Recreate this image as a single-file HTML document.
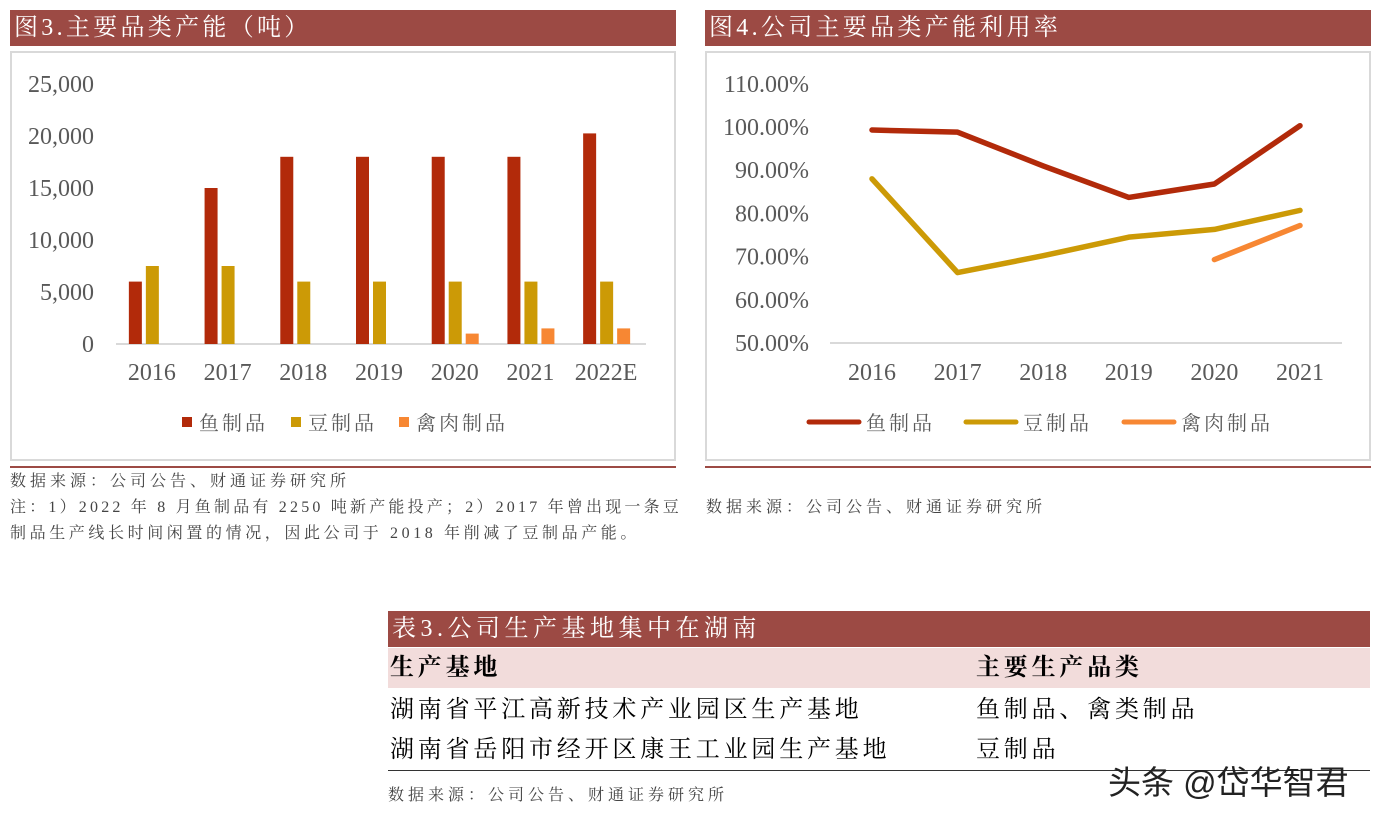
<!DOCTYPE html>
<html><head><meta charset="utf-8"><style>
body{margin:0;width:1386px;height:819px;background:#fff;position:relative;overflow:hidden;font-family:"Liberation Serif","Noto Serif CJK SC",serif;}
.abs{position:absolute}
.hdr{background:#9c4a44;color:#fff;font-size:24px;line-height:36px;padding-left:4px;box-sizing:border-box;letter-spacing:3.3px}
.src{font-size:16px;color:#444;line-height:26px;letter-spacing:4px;white-space:nowrap}
</style></head><body>
<div class="abs hdr" style="left:10px;top:10px;width:666px;height:36px">图3.主要品类产能（吨）</div>
<div class="abs hdr" style="left:705px;top:10px;width:666px;height:36px">图4.公司主要品类产能利用率</div>
<svg class="abs" style="left:0;top:0" width="1386" height="560">
<rect x="11" y="52" width="664" height="408" fill="none" stroke="#d9d9d9" stroke-width="2"/>
<rect x="706" y="52" width="664" height="408" fill="none" stroke="#d9d9d9" stroke-width="2"/>
<line x1="10" y1="467" x2="676" y2="467" stroke="#9c4a44" stroke-width="2"/>
<line x1="705" y1="467" x2="1371" y2="467" stroke="#9c4a44" stroke-width="2"/>
<g id="bar"></g><g id="line"></g>
</svg>
<div class="abs src" style="left:10px;top:469px;width:670px">数据来源：公司公告、财通证券研究所<br><span style="letter-spacing:3.2px">注：1）2022 年 8 月鱼制品有 2250 吨新产能投产；2）2017 年曾出现一条豆</span><br><span style="letter-spacing:3.6px">制品生产线长时间闲置的情况，因此公司于 2018 年削减了豆制品产能。</span></div>
<div class="abs src" style="left:706px;top:495px">数据来源：公司公告、财通证券研究所</div>

<div class="abs hdr" style="left:388px;top:611px;width:982px;height:36px;letter-spacing:4.5px">表3.公司生产基地集中在湖南</div>
<div class="abs" style="left:388px;top:648px;width:982px;height:40px;background:#f2dcdb;font-size:24px;font-weight:bold;line-height:40px;letter-spacing:3.8px">
<span class="abs" style="left:2px">生产基地</span><span class="abs" style="left:588px">主要生产品类</span></div>
<div class="abs" style="left:388px;top:690px;width:982px;height:40px;font-size:24px;line-height:40px;letter-spacing:3.8px">
<span class="abs" style="left:2px">湖南省平江高新技术产业园区生产基地</span><span class="abs" style="left:588px">鱼制品、禽类制品</span></div>
<div class="abs" style="left:388px;top:730px;width:982px;height:40px;font-size:24px;line-height:40px;border-bottom:1.5px solid #333;letter-spacing:3.8px">
<span class="abs" style="left:2px">湖南省岳阳市经开区康王工业园生产基地</span><span class="abs" style="left:588px">豆制品</span></div>
<div class="abs src" style="left:388px;top:783px">数据来源：公司公告、财通证券研究所</div>
<div class="abs" style="left:1108px;top:756px;font-size:33px;color:#222;font-family:'Liberation Sans','Noto Sans CJK SC',sans-serif">头条 @岱华智君</div>

<script>
const barCats=["2016","2017","2018","2019","2020","2021","2022E"];
const fish=[6000,15000,18000,18000,18000,18000,20250];
const soy=[7500,7500,6000,6000,6000,6000,6000];
const poultry=[0,0,0,0,1000,1500,1500];
const barTicks=["0","5,000","10,000","15,000","20,000","25,000"];
const lineCats=["2016","2017","2018","2019","2020","2021"];
const fishU=[99.3,98.8,91,83.7,86.8,100.3];
const soyU=[88,66.3,70.2,74.5,76.3,80.7];
const poultryU=[null,null,null,null,69.3,77.2];
const lineTicks=[50,60,70,80,90,100,110];
const NS="http://www.w3.org/2000/svg";
function mk(p,t,a,txt){const e=document.createElementNS(NS,t);for(const k in a)e.setAttribute(k,a[k]);if(txt!==undefined)e.textContent=txt;p.appendChild(e);return e;}
const C1="#b22a0a",C2="#cc9a06",C3="#f78733";
const bg=document.getElementById('bar');
const bx0=116,bx1=646,by=v=>344-v*260/25000,bstep=(bx1-bx0)/barCats.length;
barTicks.forEach((t,i)=>{const e=mk(bg,'text',{x:94,y:by(i*5000)+8,'text-anchor':'end','font-size':24,fill:'#595959'},t);
});
mk(bg,'line',{x1:bx0,y1:344,x2:bx1,y2:344,stroke:'#d9d9d9','stroke-width':2});
barCats.forEach((c,i)=>{const cx=bx0+bstep*(i+0.5)-2;
[[fish,C1,-23],[soy,C2,-6],[poultry,C3,11]].forEach(([arr,col,o])=>{if(arr[i]>0){const r=mk(bg,'rect',{x:cx+o,y:by(arr[i]),width:13,height:344-by(arr[i]),fill:col});
}});
const e=mk(bg,'text',{x:cx,y:380,'text-anchor':'middle','font-size':24,fill:'#595959'},c);
});
[["鱼制品",C1,182],["豆制品",C2,291],["禽肉制品",C3,399]].forEach(([t,col,x])=>{mk(bg,'rect',{x:x,y:417,width:10,height:10,fill:col});
const e=mk(bg,'text',{x:x+17,y:430,'font-size':20,fill:'#595959','letter-spacing':3},t);});
const lg=document.getElementById('line');
const lx=i=>872+i*85.6,ly=v=>343-(v-50)*4.32;
lineTicks.forEach(t=>{const e=mk(lg,'text',{x:809,y:ly(t)+8,'text-anchor':'end','font-size':24,fill:'#595959'},t.toFixed(2)+'%');
});
mk(lg,'line',{x1:830,y1:343,x2:1342,y2:343,stroke:'#d9d9d9','stroke-width':2});
lineCats.forEach((c,i)=>{const e=mk(lg,'text',{x:lx(i),y:380,'text-anchor':'middle','font-size':24,fill:'#595959'},c);
});
[[fishU,C1,'fish-line'],[soyU,C2,'soy-line'],[poultryU,C3,'poultry-line']].forEach(([arr,col,n])=>{
const pts=arr.map((v,i)=>v==null?null:lx(i)+','+ly(v)).filter(p=>p);
const p=mk(lg,'polyline',{points:pts.join(' '),fill:'none',stroke:col,'stroke-width':5.5,'stroke-linecap':'round','stroke-linejoin':'round'});
});
[["鱼制品",C1,809],["豆制品",C2,966],["禽肉制品",C3,1124]].forEach(([t,col,x])=>{mk(lg,'line',{x1:x,y1:422,x2:x+50,y2:422,stroke:col,'stroke-width':5,'stroke-linecap':'round'});
const e=mk(lg,'text',{x:x+57,y:430,'font-size':20,fill:'#595959','letter-spacing':3},t);});
</script>
</body></html>
